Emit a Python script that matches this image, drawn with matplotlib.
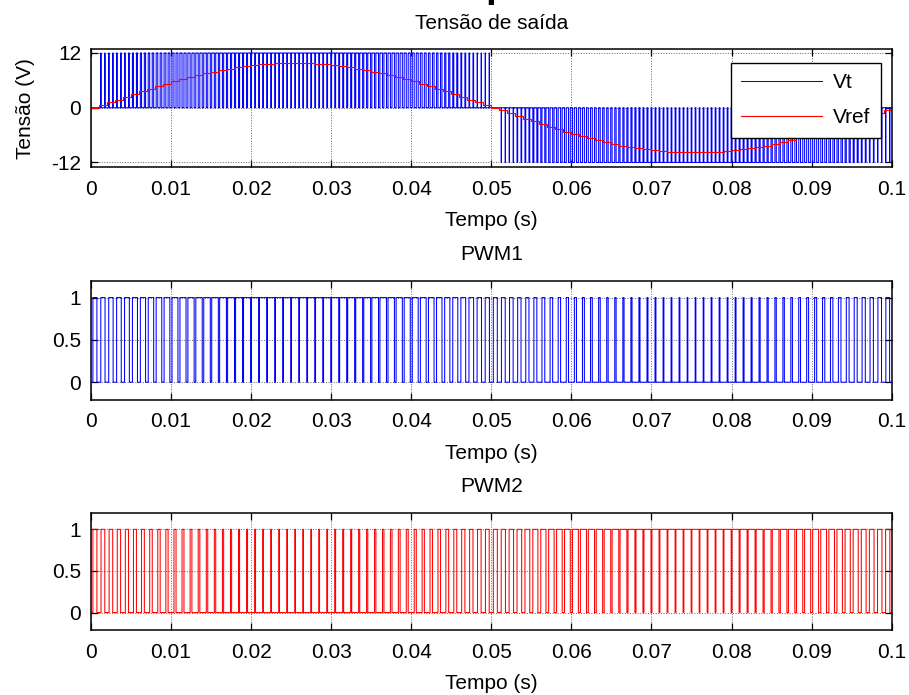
import numpy as np
import matplotlib
matplotlib.use('Agg')
import matplotlib.pyplot as plt

plt.rcParams['font.family'] = ['Liberation Sans', 'DejaVu Sans']
plt.rcParams['font.size'] = 15
plt.rcParams['path.simplify'] = False
plt.rcParams['axes.unicode_minus'] = False

# carrier period (s) and sample-and-hold reference (V), one value per period
T = 0.001
vref = [0.0, 0.6, 1.2, 1.8, 2.4, 3.0, 3.6, 4.2, 4.7, 5.3,
        5.8, 6.2, 6.7, 7.1, 7.6, 7.9, 8.3, 8.6, 8.9, 9.1,
        9.3, 9.5, 9.6, 9.7, 9.8, 9.8, 9.8, 9.7, 9.6, 9.5,
        9.3, 9.1, 8.9, 8.6, 8.3, 7.9, 7.6, 7.1, 6.7, 6.2,
        5.8, 5.3, 4.7, 4.2, 3.6, 3.0, 2.4, 1.8, 1.2, 0.6,
        0.0, -0.6, -1.2, -1.8, -2.4, -3.0, -3.6, -4.2, -4.7, -5.3,
        -5.8, -6.2, -6.7, -7.1, -7.6, -7.9, -8.3, -8.6, -8.9, -9.1,
        -9.3, -9.5, -9.6, -9.7, -9.8, -9.8, -9.8, -9.7, -9.6, -9.5,
        -9.3, -9.1, -8.9, -8.6, -8.3, -7.9, -7.6, -7.1, -6.7, -6.2,
        -5.8, -5.3, -4.7, -4.2, -3.6, -3.0, -2.4, -1.8, -1.2, -0.6]

# duty cycle of each gate signal per carrier period
duty1 = [0.50, 0.53, 0.55, 0.58, 0.60, 0.63, 0.65, 0.68, 0.70, 0.72,
         0.74, 0.76, 0.78, 0.80, 0.82, 0.83, 0.85, 0.86, 0.87, 0.88,
         0.89, 0.90, 0.90, 0.90, 0.91, 0.91, 0.91, 0.90, 0.90, 0.90,
         0.89, 0.88, 0.87, 0.86, 0.85, 0.83, 0.82, 0.80, 0.78, 0.76,
         0.74, 0.72, 0.70, 0.68, 0.65, 0.63, 0.60, 0.58, 0.55, 0.53,
         0.50, 0.47, 0.45, 0.42, 0.40, 0.37, 0.35, 0.32, 0.30, 0.28,
         0.26, 0.24, 0.22, 0.20, 0.18, 0.17, 0.15, 0.14, 0.13, 0.12,
         0.11, 0.10, 0.10, 0.10, 0.09, 0.09, 0.09, 0.10, 0.10, 0.10,
         0.11, 0.12, 0.13, 0.14, 0.15, 0.17, 0.18, 0.20, 0.22, 0.24,
         0.26, 0.28, 0.30, 0.32, 0.35, 0.37, 0.40, 0.42, 0.45, 0.47]
duty2 = [0.50, 0.47, 0.45, 0.42, 0.40, 0.37, 0.35, 0.32, 0.30, 0.28,
         0.26, 0.24, 0.22, 0.20, 0.18, 0.17, 0.15, 0.14, 0.13, 0.12,
         0.11, 0.10, 0.10, 0.10, 0.09, 0.09, 0.09, 0.10, 0.10, 0.10,
         0.11, 0.12, 0.13, 0.14, 0.15, 0.17, 0.18, 0.20, 0.22, 0.24,
         0.26, 0.28, 0.30, 0.32, 0.35, 0.37, 0.40, 0.42, 0.45, 0.47,
         0.50, 0.53, 0.55, 0.58, 0.60, 0.63, 0.65, 0.68, 0.70, 0.72,
         0.74, 0.76, 0.78, 0.80, 0.82, 0.83, 0.85, 0.86, 0.87, 0.88,
         0.89, 0.90, 0.90, 0.90, 0.91, 0.91, 0.91, 0.90, 0.90, 0.90,
         0.89, 0.88, 0.87, 0.86, 0.85, 0.83, 0.82, 0.80, 0.78, 0.76,
         0.74, 0.72, 0.70, 0.68, 0.65, 0.63, 0.60, 0.58, 0.55, 0.53]
vdc = 12
xticks = [0, 0.01, 0.02, 0.03, 0.04, 0.05, 0.06, 0.07, 0.08, 0.09, 0.1]
xticklabels = ['0', '0.01', '0.02', '0.03', '0.04', '0.05', '0.06', '0.07', '0.08', '0.09', '0.1']

# gate waveforms on a fine time grid (pulses centred in each carrier period)
t = np.arange(0, 0.1, 1e-6)
k = np.minimum((t / T).astype(int), len(duty1) - 1)
centre = (k + 0.5) * T
pwm1 = (np.abs(t - centre) < np.array(duty1)[k] * T / 2).astype(float)
pwm2 = (np.abs(t - centre) < np.array(duty2)[k] * T / 2).astype(float)
vt = vdc * (pwm1 - pwm2)
t_ref = np.arange(len(vref)) * T

fig = plt.figure(figsize=(9.09, 6.95), dpi=100)
ax1 = fig.add_axes([0.100, 0.759, 0.881, 0.170])
ax2 = fig.add_axes([0.100, 0.4245, 0.881, 0.1717])
ax3 = fig.add_axes([0.100, 0.0935, 0.881, 0.1688])

ax1.plot(t, vt, color='#0000ff', lw=0.75, label='Vt')
ax1.step(np.append(t_ref, 0.1), np.append(vref, vref[-1]), where='post',
         color='#ff0000', lw=0.8, label='Vref')
ax1.set_ylim(-13.1, 12.8)
ax1.set_yticks([-12, 0, 12])
ax1.set_title('Tensão de saída', fontsize=15, pad=15)
ax1.set_ylabel('Tensão (V)', labelpad=12)
leg = ax1.legend(loc='upper right', handlelength=3.9, handletextpad=0.5,
                 fancybox=False, framealpha=1, edgecolor='black',
                 borderpad=0.5, labelspacing=0.75, borderaxespad=0,
                 bbox_to_anchor=(0.986, 0.884))
leg.get_frame().set_linewidth(1.0)

ax2.plot(t, pwm1, color='#0000ff', lw=0.75)
ax2.set_title('PWM1', fontsize=15, pad=15)
ax3.plot(t, pwm2, color='#ff0000', lw=0.75)
ax3.set_title('PWM2', fontsize=15, pad=15)

for ax in (ax2, ax3):
    ax.set_ylim(-0.21, 1.2)
    ax.set_yticks([0, 0.5, 1])
    ax.set_yticklabels(['0', '0.5', '1'])

for ax in (ax1, ax2, ax3):
    ax.set_xlim(0, 0.1)
    ax.set_xticks(xticks)
    ax.set_xticklabels(xticklabels)
    ax.set_xlabel('Tempo (s)', labelpad=9)
    ax.tick_params(direction='in', top=True, right=True, length=5, width=0.9, pad=9)
    ax.tick_params(axis='y', pad=7)
    ax.grid(True, linestyle=':', color='0.4', lw=0.7)
    for s in ax.spines.values():
        s.set_linewidth(1.1)

fig.text(0.547, 1.004, 'p', fontsize=28, fontweight='bold', ha='center', va='baseline')

fig.savefig('out.png', dpi=100)
